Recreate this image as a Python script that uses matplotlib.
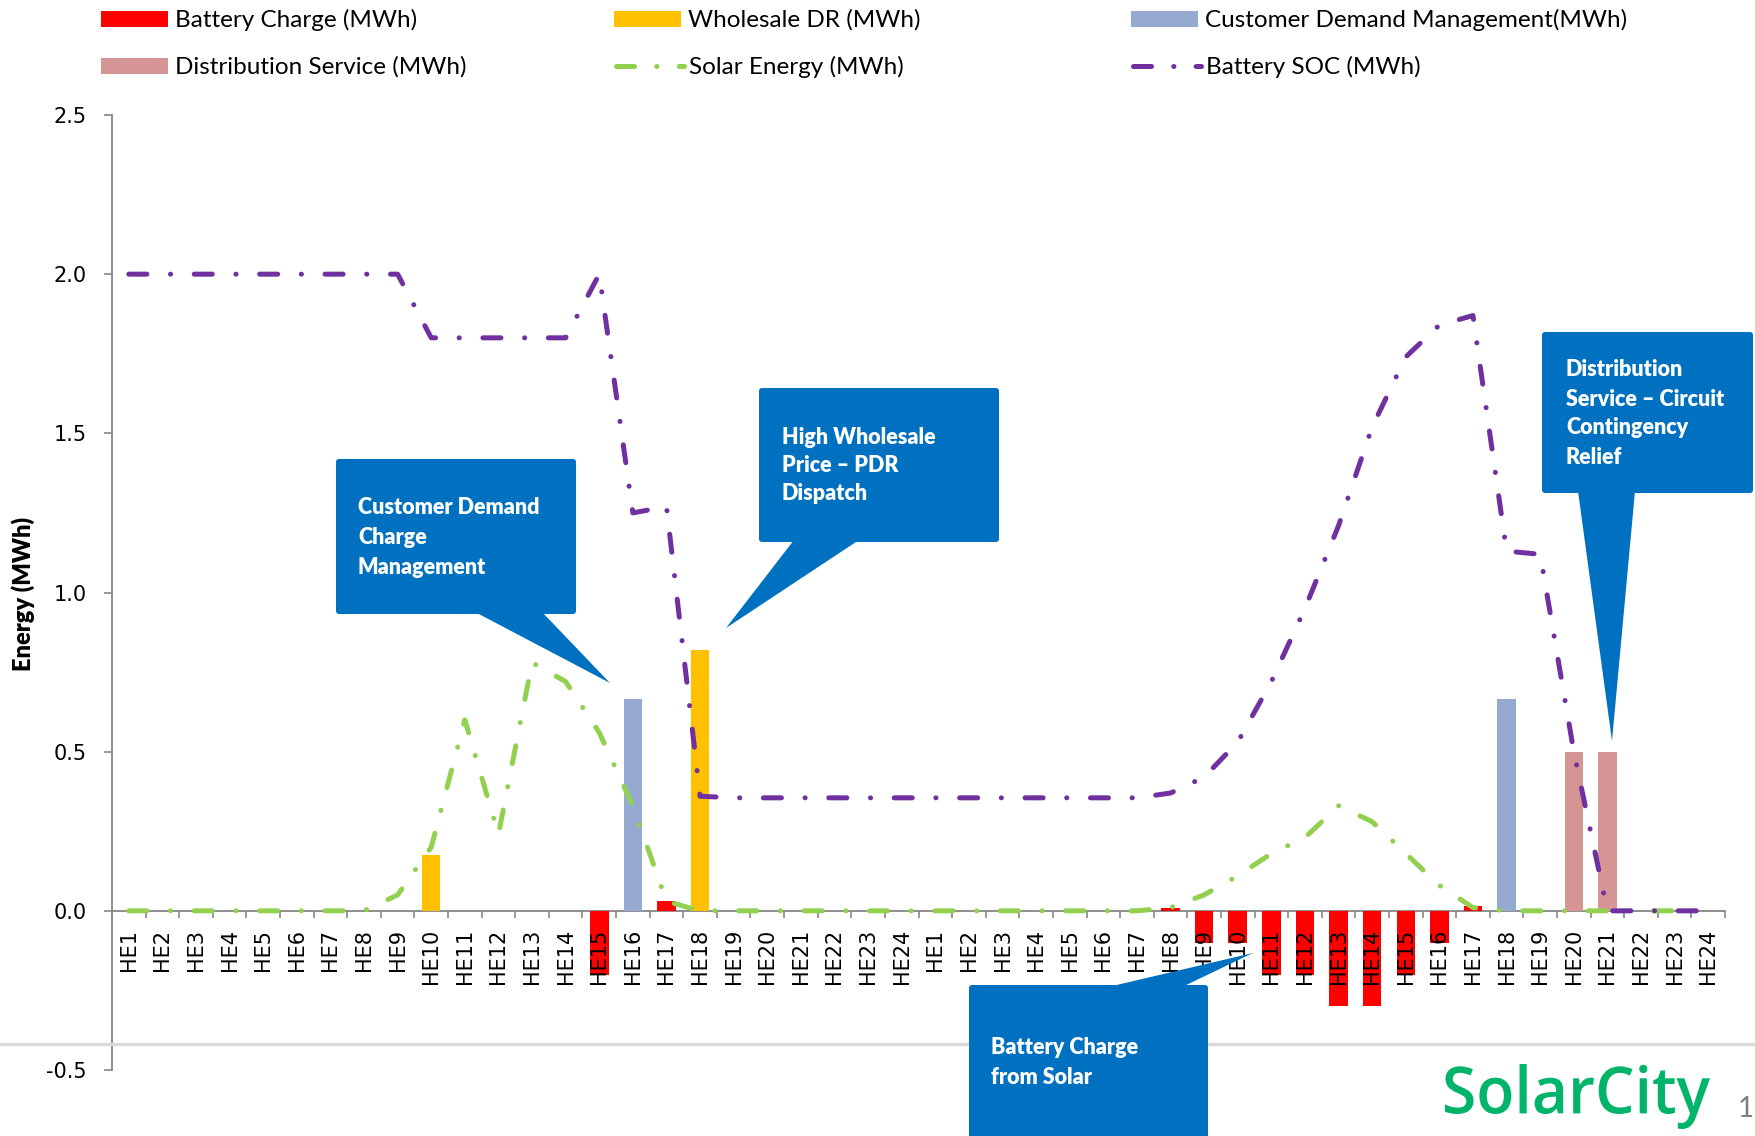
import matplotlib
matplotlib.use('Agg')
import matplotlib.pyplot as plt
from matplotlib.patches import FancyBboxPatch, Polygon, Rectangle, PathPatch
from matplotlib.lines import Line2D
from matplotlib.textpath import TextPath
from matplotlib.font_manager import FontProperties
from matplotlib.transforms import Affine2D
from matplotlib.ticker import FormatStrFormatter
import numpy as np

plt.rcParams['lines.scale_dashes'] = False

# Two days of hourly intervals
hours = ['HE%d' % h for h in range(1, 25)] * 2

# Hourly energy per service (MWh), day 1 then day 2
battery_charge = [0, 0, 0, 0, 0, 0, 0, 0, 0, 0, 0, 0, 0, 0, -0.2, 0, 0.03, 0, 0, 0, 0, 0, 0, 0,
                  0, 0, 0, 0, 0, 0, 0, 0.01, -0.1, -0.1, -0.2, -0.2, -0.3, -0.3, -0.2, -0.1, 0.015, 0, 0, 0, 0, 0, 0, 0]
wholesale_dr = [0, 0, 0, 0, 0, 0, 0, 0, 0, 0.175, 0, 0, 0, 0, 0, 0, 0, 0.82, 0, 0, 0, 0, 0, 0,
                0, 0, 0, 0, 0, 0, 0, 0, 0, 0, 0, 0, 0, 0, 0, 0, 0, 0, 0, 0, 0, 0, 0, 0]
customer_dm = [0, 0, 0, 0, 0, 0, 0, 0, 0, 0, 0, 0, 0, 0, 0, 0.667, 0, 0, 0, 0, 0, 0, 0, 0,
               0, 0, 0, 0, 0, 0, 0, 0, 0, 0, 0, 0, 0, 0, 0, 0, 0, 0.667, 0, 0, 0, 0, 0, 0]
dist_service = [0, 0, 0, 0, 0, 0, 0, 0, 0, 0, 0, 0, 0, 0, 0, 0, 0, 0, 0, 0, 0, 0, 0, 0,
                0, 0, 0, 0, 0, 0, 0, 0, 0, 0, 0, 0, 0, 0, 0, 0, 0, 0, 0, 0.5, 0.5, 0, 0, 0]
solar = [0, 0, 0, 0, 0, 0, 0, 0, 0.05, 0.2, 0.6, 0.24, 0.78, 0.72, 0.56, 0.33, 0.03, 0, 0, 0, 0, 0, 0, 0,
         0, 0, 0, 0, 0, 0, 0, 0.01, 0.05, 0.11, 0.18, 0.23, 0.33, 0.28, 0.18, 0.08, 0.01, 0, 0, 0, 0, 0, 0, 0]
battery_soc = [2.0, 2.0, 2.0, 2.0, 2.0, 2.0, 2.0, 2.0, 2.0, 1.8, 1.8, 1.8, 1.8, 1.8, 2.0, 1.25, 1.27, 0.36,
               0.355, 0.355, 0.355, 0.355, 0.355, 0.355,
               0.355, 0.355, 0.355, 0.355, 0.355, 0.355, 0.355, 0.37, 0.42, 0.53, 0.72, 0.95, 1.21, 1.52,
               1.74, 1.84, 1.87, 1.13, 1.12, 0.5, 0.0, 0, 0, 0]

RED = '#FF0000'
ORANGE = '#FFC000'
LBLUE = '#95A9D1'
PINK = '#D59594'
GREEN = '#92D050'
PURPLE = '#7030A0'
CALLOUT = '#0070C0'
AXIS = '#868686'
DASH = [13, 17, 0.1, 17]

W, H = 1756, 1136
fig = plt.figure(figsize=(W / 100, H / 100), dpi=100)
fig.patch.set_facecolor('white')

ax = fig.add_axes([112 / W, 1 - 1070 / H, (1725 - 112) / W, (1070 - 115) / H])
ax.set_axisbelow(False)
x = np.arange(len(hours))
bw = 0.55
ax.bar(x, battery_charge, bw, color=RED, zorder=2)
ax.bar(x, wholesale_dr, bw, color=ORANGE, zorder=2)
ax.bar(x, customer_dm, bw, color=LBLUE, zorder=2)
ax.bar(x, dist_service, bw, color=PINK, zorder=2)
ax.plot(x, solar, color=GREEN, lw=3.6, dashes=DASH, dash_capstyle='round',
        dash_joinstyle='round', zorder=3)
ax.plot(x, battery_soc, color=PURPLE, lw=3.6, dashes=DASH, dash_capstyle='round',
        dash_joinstyle='round', zorder=4)

ax.set_xlim(-0.5, len(hours) - 0.5)
ax.set_ylim(-0.5, 2.5)
for s in ['top', 'right']:
    ax.spines[s].set_visible(False)
ax.spines['bottom'].set_position(('data', 0))
for s in ['left', 'bottom']:
    ax.spines[s].set_color(AXIS)
    ax.spines[s].set_linewidth(1.3)
    ax.spines[s].set_zorder(1.8)

ax.set_xticks(x)
ax.set_xticklabels(hours, rotation=90, fontsize=15, family='DejaVu Sans', va='top')
ax.set_xticks(np.arange(-0.5, len(hours), 1), minor=True)
ax.tick_params(axis='x', which='major', length=0, pad=13)
ax.tick_params(axis='x', which='minor', length=5, color=AXIS, width=1.2, direction='out')
ax.set_yticks([-0.5, 0.0, 0.5, 1.0, 1.5, 2.0, 2.5])
ax.yaxis.set_major_formatter(FormatStrFormatter('%.1f'))
ax.tick_params(axis='y', length=6, color=AXIS, width=1.2, pad=12, labelsize=15)
for t in ax.get_yticklabels():
    t.set_family('DejaVu Sans')
ax.set_ylabel('Energy (MWh)', fontsize=17, fontweight='heavy', family='Lato')
ax.yaxis.set_label_coords(-0.048, 0.498)

# overlay in pixel coordinates for legend, callouts and footer
ov = fig.add_axes([0, 0, 1, 1])
ov.set_xlim(0, W)
ov.set_ylim(H, 0)
ov.axis('off')

# slide separator
ov.plot([0, W], [1044, 1044], color='#D9D9D9', lw=2.5, zorder=1)

# legend
legend_items = [
    ('bar', RED, 'Battery Charge (MWh)', 101, 19),
    ('bar', ORANGE, 'Wholesale DR (MWh)', 614, 19),
    ('bar', LBLUE, 'Customer Demand Management(MWh)', 1131, 19),
    ('bar', PINK, 'Distribution Service (MWh)', 101, 66),
    ('line', GREEN, 'Solar Energy (MWh)', 614, 66),
    ('line', PURPLE, 'Battery SOC (MWh)', 1131, 66),
]
for kind, col, label, lx, ly in legend_items:
    if kind == 'bar':
        ov.add_patch(Rectangle((lx, ly - 8), 67, 16, color=col, lw=0))
        tx = lx + 74
    else:
        ov.add_line(Line2D([lx + 2, lx + 70], [ly, ly], color=col, lw=3.6,
                           dashes=[13, 16, 0.1, 16], dash_capstyle='round'))
        tx = lx + 75
    ov.text(tx, ly + 1, label, fontsize=17.5, family='Lato', va='center', ha='left')

# callouts: box, pointer and text lines
callouts = [
    ((336, 459, 576, 614), [(475, 612), (542, 612), (610, 683)], 358,
     [508, 537, 567], ['Customer Demand', 'Charge', 'Management']),
    ((759, 388, 999, 542), [(794, 540), (859, 540), (726, 628)], 782,
     [437, 465, 494], ['High Wholesale', 'Price \u2013 PDR', 'Dispatch']),
    ((1542, 332, 1753, 493), [(1578, 491), (1635, 491), (1612, 741)], 1566,
     [370, 399, 428, 457], ['Distribution', 'Service \u2013 Circuit', 'Contingency', 'Relief']),
    ((969, 985, 1208, 1145), [(1108, 987), (1182, 987), (1253, 953)], 991,
     [1048, 1077], ['Battery Charge', 'from Solar']),
]
for (x0, y0, x1, y1), wedge, tx, tys, lines in callouts:
    ov.add_patch(FancyBboxPatch((x0, y0), x1 - x0, y1 - y0,
                                boxstyle='round,pad=0,rounding_size=3',
                                fc=CALLOUT, ec='none', zorder=5))
    ov.add_patch(Polygon(wedge, closed=True, fc=CALLOUT, ec='none', zorder=5))
    for ty, line in zip(tys, lines):
        ov.text(tx, ty, line, color='white', fontsize=15.5, fontweight='heavy',
                family='Lato', va='center', ha='left', zorder=6)

# SolarCity wordmark
tp = TextPath((0, 0), 'SolarCity', size=1,
              prop=FontProperties(family='Open Sans', weight='semibold'))
ext = tp.get_extents()
sx = 265 / ext.width
sy = 65 / ext.height
tr = Affine2D().translate(-ext.x0, -ext.y1).scale(sx, -sy).translate(1445, 1064)
ov.add_patch(PathPatch(tp, transform=tr + ov.transData, fc='#00B46A', ec='none'))

# page number
ov.text(1754, 1109, '1', fontsize=20, family='Lato', color='#7F7F7F', va='center', ha='right')

fig.savefig('out.png', dpi=100)
